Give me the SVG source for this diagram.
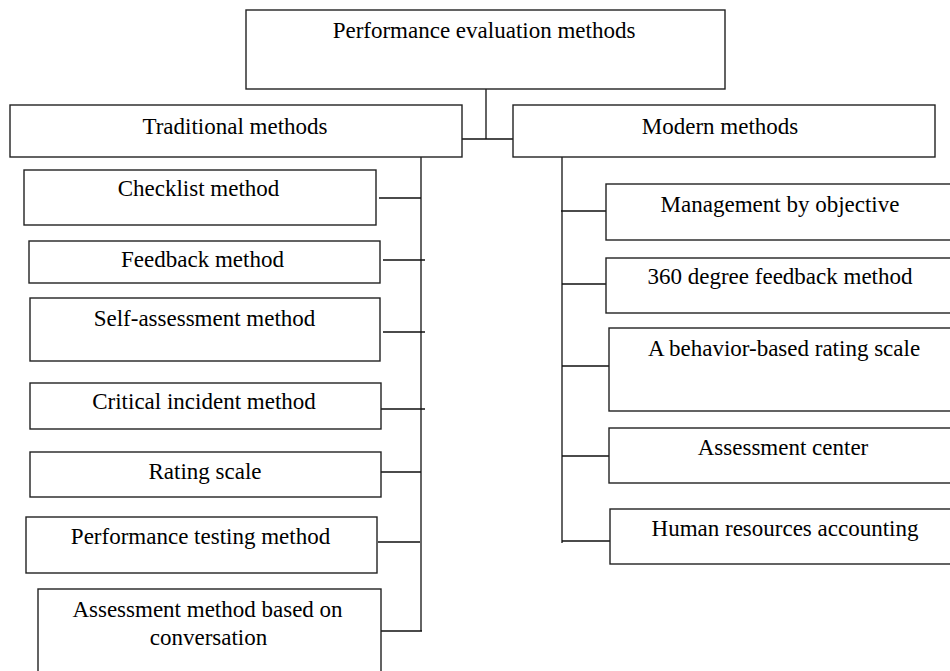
<svg xmlns="http://www.w3.org/2000/svg" width="950" height="671" viewBox="0 0 950 671">
<style>
.box{fill:#fff;stroke:#222;stroke-width:1.4}
.t{font-family:"Liberation Serif","Times New Roman",serif;font-size:23px;fill:#000;text-anchor:middle}
.c{stroke:#111;stroke-width:1.3;fill:none}
</style>
<rect width="950" height="671" fill="#fff"/>
<g id="connectors">
<path class="c" d="M486 89V139M462 139H513"/>
<path class="c" d="M421 157V631"/>
<path class="c" d="M379 198H421M383 260H425M383 332H425M381 409H425M380 472H421M378 542H420M380 631H422"/>
<path class="c" d="M562 157V543"/>
<path class="c" d="M561 211H606M562 284H606M562 366H609M562 456H609M562 541H610"/>
</g>
<g id="root"><rect class="box" x="246" y="10" width="479" height="79"/><text class="t" x="484" y="38">Performance evaluation methods</text></g>
<g id="traditional"><rect class="box" x="10" y="105" width="452" height="52"/><text class="t" x="235" y="134">Traditional methods</text></g>
<g id="modern"><rect class="box" x="513" y="105" width="422" height="52"/><text class="t" x="720" y="134">Modern methods</text></g>
<g id="checklist"><rect class="box" x="24" y="170" width="352" height="55"/><text class="t" x="198.5" y="196">Checklist method</text></g>
<g id="feedback"><rect class="box" x="29" y="241" width="351" height="42"/><text class="t" x="202.5" y="267">Feedback method</text></g>
<g id="self"><rect class="box" x="30" y="298" width="350" height="63"/><text class="t" x="204.5" y="326">Self-assessment method</text></g>
<g id="critical"><rect class="box" x="30" y="383" width="351" height="46"/><text class="t" x="204" y="409">Critical incident method</text></g>
<g id="rating"><rect class="box" x="30" y="452" width="351" height="45"/><text class="t" x="205" y="479">Rating scale</text></g>
<g id="testing"><rect class="box" x="26" y="517" width="351" height="56"/><text class="t" x="200.5" y="544">Performance testing method</text></g>
<g id="conversation"><rect class="box" x="38" y="589" width="343" height="100"/><text class="t" x="207.5" y="617">Assessment method based on</text><text class="t" x="208.5" y="645">conversation</text></g>
<g id="mbo"><rect class="box" x="606" y="184" width="350" height="56"/><text class="t" x="780" y="212">Management by objective</text></g>
<g id="deg360"><rect class="box" x="606" y="258" width="350" height="55"/><text class="t" x="780" y="284">360 degree feedback method</text></g>
<g id="bars"><rect class="box" x="609" y="328" width="350" height="83"/><text class="t" x="784" y="356">A behavior-based rating scale</text></g>
<g id="center"><rect class="box" x="609" y="428" width="350" height="55"/><text class="t" x="783" y="455">Assessment center</text></g>
<g id="hra"><rect class="box" x="610" y="509" width="350" height="55"/><text class="t" x="785" y="536">Human resources accounting</text></g>
</svg>
